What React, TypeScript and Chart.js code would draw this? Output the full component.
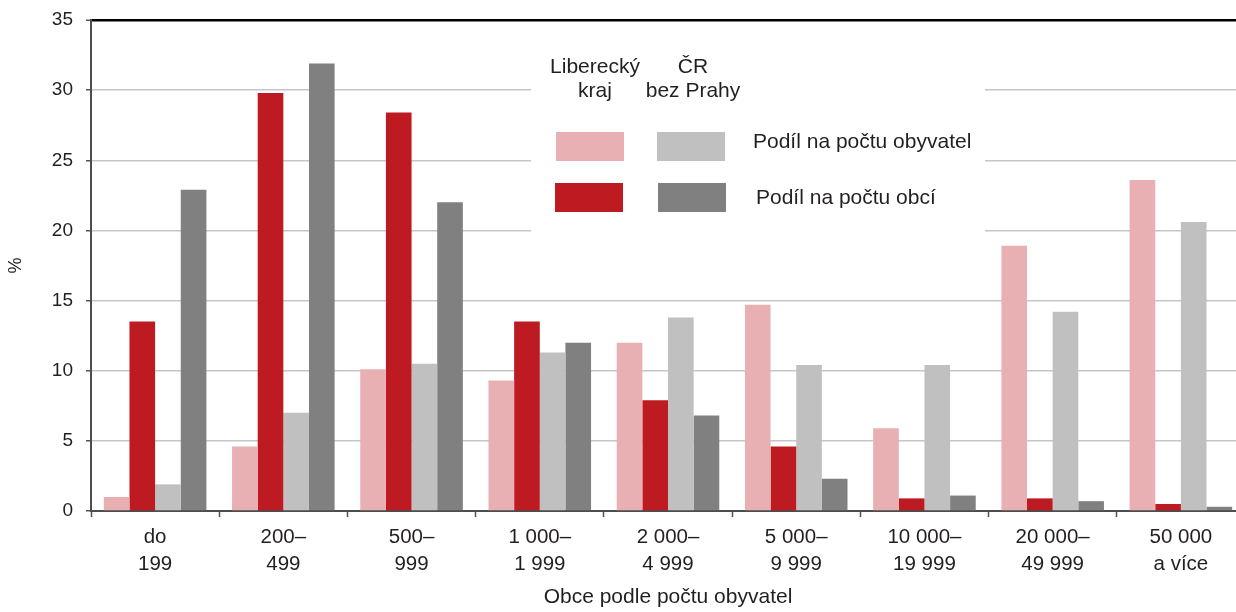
import React, { useEffect, useRef } from "react";
import { Chart, registerables } from "chart.js";

Chart.register(...registerables);

const categories: string[][] = [
  ["do", "199"],
  ["200–", "499"],
  ["500–", "999"],
  ["1 000–", "1 999"],
  ["2 000–", "4 999"],
  ["5 000–", "9 999"],
  ["10 000–", "19 999"],
  ["20 000–", "49 999"],
  ["50 000", "a více"],
];

const lkObyvatel = [1.0, 4.6, 10.1, 9.3, 12.0, 14.7, 5.9, 18.9, 23.6];
const lkObci = [13.5, 29.8, 28.4, 13.5, 7.9, 4.6, 0.9, 0.9, 0.5];
const crObyvatel = [1.9, 7.0, 10.5, 11.3, 13.8, 10.4, 10.4, 14.2, 20.6];
const crObci = [22.9, 31.9, 22.0, 12.0, 6.8, 2.3, 1.1, 0.7, 0.3];

const regionHeaders = [["Liberecký", "kraj"], ["ČR", "bez Prahy"]];
const measureLabels = ["Podíl na počtu obyvatel", "Podíl na počtu obcí"];
const xTitle = "Obce podle počtu obyvatel";
const yTitle = "%";

const PINK = "#e8b0b3";
const RED = "#be1a22";
const LGRAY = "#c0c0c0";
const DGRAY = "#808080";
const TEXT = "#231f20";
const FONT = '"Liberation Sans", Arial, Helvetica, sans-serif';

const legendPlugin = {
  id: "customLegend",
  beforeDatasetsDraw(chart: any) {
    const ctx = chart.ctx as CanvasRenderingContext2D;
    ctx.save();
    ctx.fillStyle = "#ffffff";
    ctx.fillRect(531, 30, 454, 220);

    ctx.fillStyle = TEXT;
    ctx.font = `21px ${FONT}`;
    ctx.textBaseline = "alphabetic";
    ctx.textAlign = "center";
    const headerX = [595, 693];
    regionHeaders.forEach((lines, i) => {
      lines.forEach((ln, j) => {
        ctx.fillText(ln, headerX[i], 73 + j * 23.5);
      });
    });

    const rows = [
      { y: 132, colors: [PINK, LGRAY], xs: [556, 657] },
      { y: 183, colors: [RED, DGRAY], xs: [555, 658] },
    ];
    rows.forEach((r) => {
      r.colors.forEach((c, k) => {
        ctx.fillStyle = c;
        ctx.fillRect(r.xs[k], r.y, 68, 29);
      });
    });

    ctx.fillStyle = TEXT;
    ctx.textAlign = "left";
    ctx.fillText(measureLabels[0], 753, 148);
    ctx.fillText(measureLabels[1], 756, 204);
    ctx.restore();
  },
};

export default function App() {
  const canvasRef = useRef<HTMLCanvasElement | null>(null);

  useEffect(() => {
    document.documentElement.style.overflow = "hidden";
    document.body.style.overflow = "hidden";
    const canvas = canvasRef.current;
    if (!canvas) return;
    const chart = new Chart(canvas, {
      type: "bar",
      data: {
        labels: categories,
        datasets: [
          { label: "Liberecký kraj – obyvatel", data: lkObyvatel, backgroundColor: PINK },
          { label: "Liberecký kraj – obcí", data: lkObci, backgroundColor: RED },
          { label: "ČR bez Prahy – obyvatel", data: crObyvatel, backgroundColor: LGRAY },
          { label: "ČR bez Prahy – obcí", data: crObci, backgroundColor: DGRAY },
        ],
      },
      options: {
        animation: false,
        responsive: false,
        devicePixelRatio: 1,
        layout: { padding: { top: 20, right: 1, bottom: 0, left: 0 } },
        datasets: {
          bar: { categoryPercentage: 0.8, barPercentage: 1.0, borderWidth: 0 },
        },
        plugins: {
          legend: { display: false },
          tooltip: { enabled: false },
        },
        scales: {
          x: {
            offset: true,
            grid: {
              display: true,
              drawOnChartArea: false,
              drawTicks: true,
              tickLength: 6,
              tickColor: "#555555",
              tickWidth: 1.5,
              offset: true,
            },
            border: { display: true, color: "#4d4d4d", width: 2 },
            ticks: {
              autoSkip: false,
              maxRotation: 0,
              minRotation: 0,
              padding: 7,
              color: TEXT,
              font: { family: FONT, size: 20.5, lineHeight: 1.3 },
            },
            title: {
              display: true,
              text: xTitle,
              color: TEXT,
              font: { family: FONT, size: 21 },
              padding: { top: 0, bottom: 2 },
            },
            afterFit: (scale: any) => {
              scale.height = 101;
              scale.paddingLeft = 0;
              scale.paddingRight = 0;
            },
          },
          y: {
            min: 0,
            max: 35,
            ticks: {
              stepSize: 5,
              padding: 13,
              color: TEXT,
              font: { family: FONT, size: 19 },
            },
            grid: {
              color: (c: any) => (c.tick && c.tick.value === 35 ? "#000000" : "#c6c6c6"),
              lineWidth: (c: any) => (c.tick && c.tick.value === 35 ? 2.5 : 1.5),
              tickColor: "#555555",
              tickWidth: 1.5,
              tickLength: 5,
            },
            border: { display: true, color: "#4d4d4d", width: 2 },
            title: {
              display: true,
              text: yTitle,
              color: TEXT,
              font: { family: FONT, size: 18 },
              padding: { top: 5, bottom: 4 },
            },
            afterFit: (scale: any) => {
              scale.width = 91;
              scale.paddingTop = 0;
              scale.paddingBottom = 0;
            },
          },
        },
      },
      plugins: [legendPlugin],
    } as any);
    return () => chart.destroy();
  }, []);

  return (
    <div style={{ position: "fixed", left: 0, top: 0, width: 1246, height: 612, background: "#fff" }}>
      <canvas ref={canvasRef} width={1246} height={612} style={{ display: "block" }} />
    </div>
  );
}
